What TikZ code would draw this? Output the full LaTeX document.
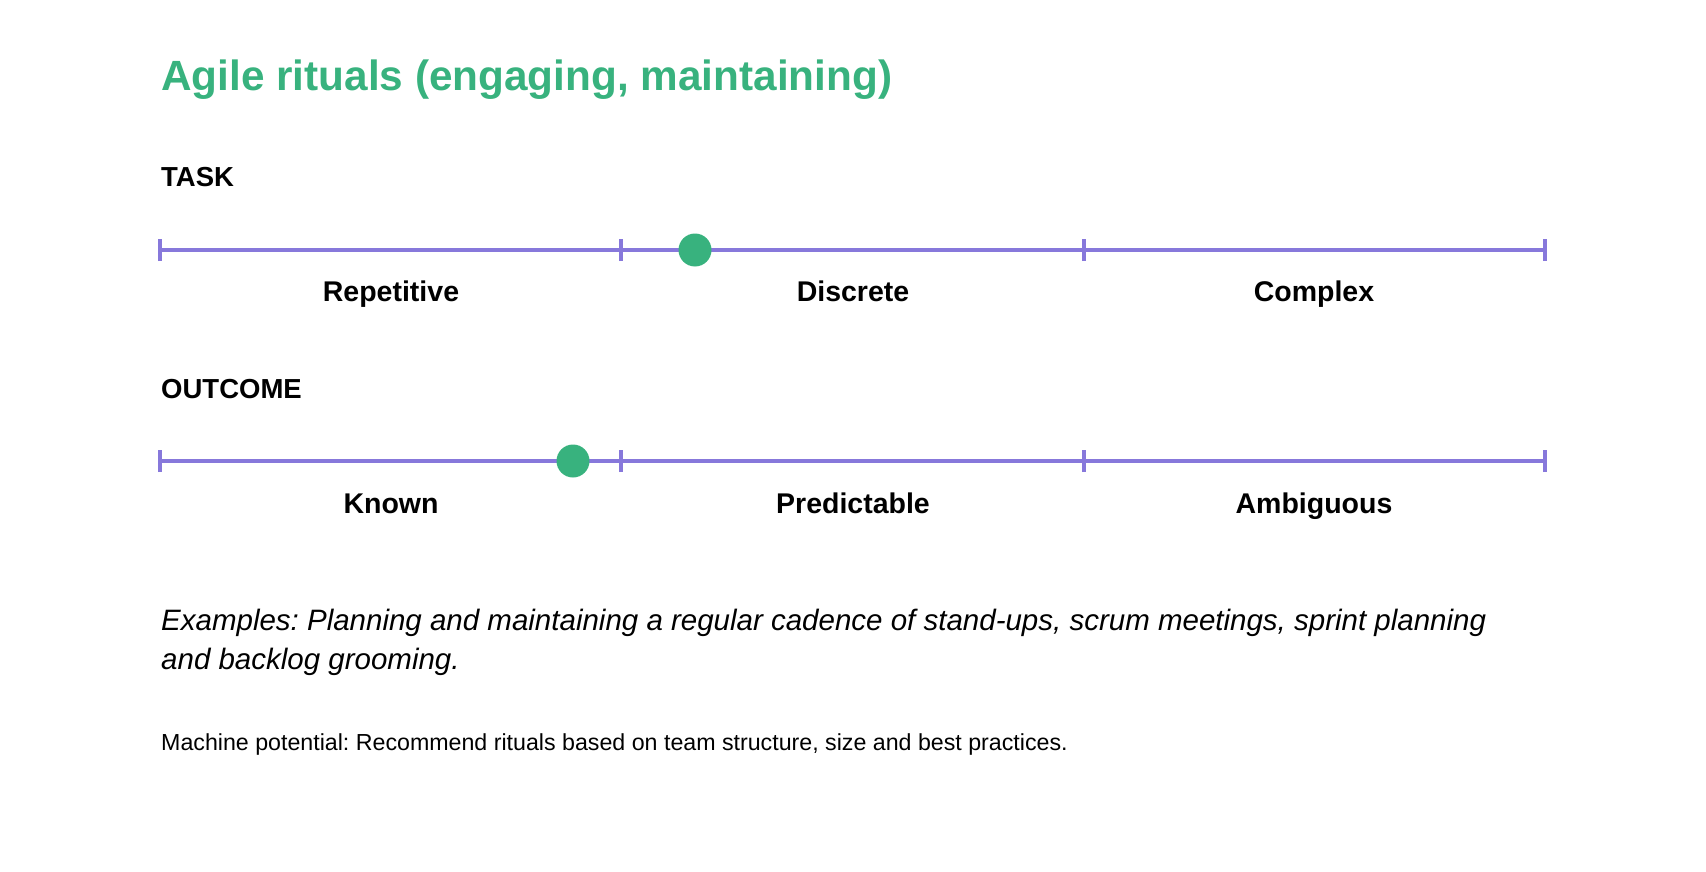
\documentclass[tikz,border=0pt]{standalone}
\usepackage{fontspec}
\setmainfont{Liberation Sans}
\frenchspacing
\definecolor{agreen}{HTML}{38B27E}
\definecolor{apurple}{HTML}{8778DB}
\begin{document}
\begin{tikzpicture}[x=1pt,y=-1pt,
  txt/.style={inner sep=0pt,anchor=base west,text=black},
  lab/.style={inner sep=0pt,anchor=base,font=\fontsize{28.5}{32}\selectfont\bfseries},
  head/.style={txt,font=\fontsize{27.5}{32}\selectfont\bfseries},
  scaleline/.style={draw=apurple,line width=3.2pt},
  dot/.style={circle,fill=agreen,minimum size=33pt,inner sep=0pt}]
\useasboundingbox (0,0) rectangle (1706,872);
\node[txt,text=agreen,font=\fontsize{42.3}{48}\selectfont\bfseries] (title) at (161,91) {Agile rituals (engaging, maintaining)};
\node[head] (task) at (161,186) {TASK};
% task scale
\coordinate (t0) at (160,250);
\coordinate (t1) at (621,250);
\coordinate (t2) at (1084,250);
\coordinate (t3) at (1545,250);
\draw[scaleline] (t0) -- (t3);
\foreach \c in {t0,t1,t2,t3} \draw[scaleline] ([yshift=-11pt]\c) -- ([yshift=11pt]\c);
\node[dot] (tdot) at (695,250) {};
\node[lab] (rep) at (391,301) {Repetitive};
\node[lab] (dis) at (853,301) {Discrete};
\node[lab] (com) at (1314,301) {Complex};
\node[head] (outcome) at (161,398) {OUTCOME};
% outcome scale
\coordinate (o0) at (160,461);
\coordinate (o1) at (621,461);
\coordinate (o2) at (1084,461);
\coordinate (o3) at (1545,461);
\draw[scaleline] (o0) -- (o3);
\foreach \c in {o0,o1,o2,o3} \draw[scaleline] ([yshift=-11pt]\c) -- ([yshift=11pt]\c);
\node[dot] (odot) at (573,461) {};
\node[lab] (kno) at (391,513) {Known};
\node[lab] (pre) at (853,513) {Predictable};
\node[lab] (amb) at (1314,513) {Ambiguous};
\node[txt,font=\fontsize{29.5}{34}\selectfont\itshape] (ex1) at (161,630) {Examples: Planning and maintaining a regular cadence of stand-ups, scrum meetings, sprint planning};
\node[txt,font=\fontsize{29.5}{34}\selectfont\itshape] (ex2) at (161,669) {and backlog grooming.};
\node[txt,font=\fontsize{23.2}{28}\selectfont] (mach) at (161,750) {Machine potential: Recommend rituals based on team structure, size and best practices.};
\end{tikzpicture}
\end{document}
